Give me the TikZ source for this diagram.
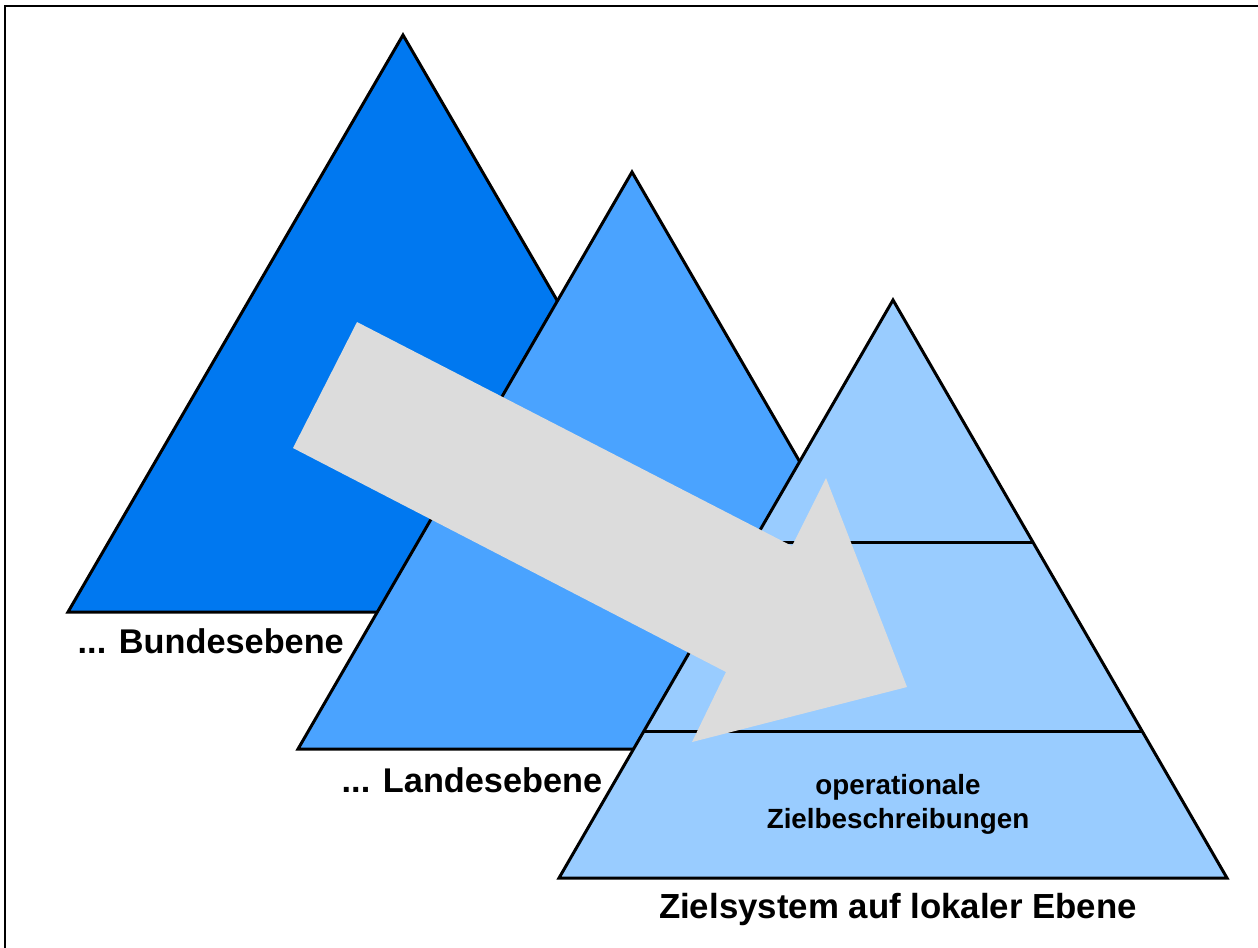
\documentclass[tikz,border=0pt]{standalone}
\usepackage{fontspec}
\setmainfont{Liberation Sans}
\definecolor{bundblue}{RGB}{0,120,240}
\definecolor{landblue}{RGB}{74,163,255}
\definecolor{lokalblue}{RGB}{153,204,255}
\definecolor{arrowgray}{RGB}{220,220,220}
\tikzset{
  level/.style={draw, line width=0.85pt, line join=miter},
  label/.style={inner sep=0pt, font=\bfseries\fontsize{9.75}{12}\selectfont},
}
\begin{document}
\begin{tikzpicture}[x=0.01cm, y=-0.01cm]

    \useasboundingbox (0,0) rectangle (1258,947);
    \draw[line width=0.6pt] (5,6) rectangle (1270,960);

    % three levels
    \draw[level, fill=bundblue] (403,35) -- (738,612) -- (68,612) -- cycle;
    \draw[level, fill=landblue] (632,172) -- (966,749) -- (298,749) -- cycle;
    \draw[level, fill=lokalblue] (893,300) -- (1227,878) -- (559,878) -- cycle;
    \draw[level] (753,542) -- (1033,542);
    \draw[level] (644,731) -- (1142,731);

    % the big arrow
    \fill[arrowgray] (357,322) -- (792,546) -- (826,478) -- (907,687)
      -- (692,742) -- (726,672) -- (293,448) -- cycle;

    \node[label, anchor=base west] (bund) at (77,653) {... Bundesebene};
    \node[label, anchor=base west] (land) at (341,792) {... Landesebene};
    \node[label, anchor=base, font=\bfseries\fontsize{9.9}{12}\selectfont]
      (lokal) at (898,918) {Zielsystem auf lokaler Ebene};
    \node[inner sep=0pt, anchor=base, align=center,
      font=\bfseries\fontsize{7.9}{9.4}\selectfont] (ziel) at (898,828)
      {operationale\\Zielbeschreibungen};

  \end{tikzpicture}
\end{document}
